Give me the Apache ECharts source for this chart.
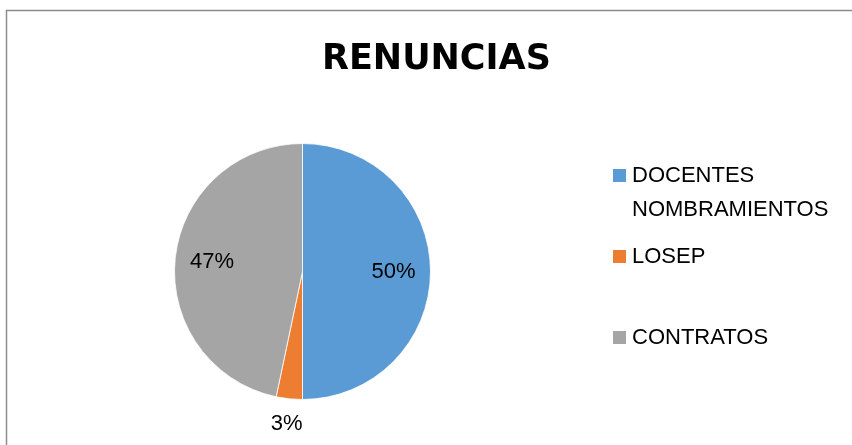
<!DOCTYPE html>
<html>
<head>
<meta charset="utf-8">
<title>RENUNCIAS</title>
<script src="https://cdn.jsdelivr.net/npm/echarts@6/dist/echarts.min.js"></script>
<style>
  html, body { margin: 0; padding: 0; background: #fff; }
  #chart { width: 852px; height: 445px; }
</style>
</head>
<body>
<div id="chart"></div>
<script>
// datos del gráfico
const categories = ['DOCENTES NOMBRAMIENTOS', 'LOSEP', 'CONTRATOS']
const values = [50, 3.3, 46.7]
const colors = ['#5B9BD5', '#ED7D31', '#A5A5A5']
// etiquetas que van fuera del sector
const outsideLabels = ['LOSEP']

const font = 'Liberation Sans, Arial, sans-serif'
const center = [302.5, 271.5]

const pieData = categories.map((name, i) => ({
  name: name,
  value: values[i],
  itemStyle: { color: colors[i] }
}))

function pct(p) {
  return Math.round(p.percent) + '%'
}

function legendFor(name, top) {
  return {
    orient: 'vertical',
    left: 611,
    top: top,
    padding: 0,
    data: [name],
    icon: 'rect',
    itemWidth: 15,
    itemHeight: 15,
    selectedMode: false,
    textStyle: {
      fontFamily: font,
      fontSize: 22,
      color: '#000',
      lineHeight: 34
    },
    // primera línea alineada con el cuadro
    formatter: n => n === 'DOCENTES NOMBRAMIENTOS' ? ' \nDOCENTES\nNOMBRAMIENTOS' : n
  }
}

const chart = echarts.init(document.getElementById('chart'))

chart.setOption({
  animation: false,
  title: {
    text: 'RENUNCIAS',
    left: 322,
    top: 42,
    padding: 0,
    textStyle: {
      fontFamily: 'DejaVu Sans, sans-serif',
      fontWeight: 'bold',
      fontSize: 35,
      color: '#000'
    }
  },
  legend: [
    legendFor(categories[0], 124.5),
    legendFor(categories[1], 239.5),
    legendFor(categories[2], 320.5)
  ],
  graphic: [{
    type: 'rect',
    silent: true,
    shape: { x: 6.5, y: 10.5, width: 900, height: 500 },
    style: { fill: 'none', stroke: '#8c8c8c', lineWidth: 1.5 }
  }],
  series: [
    {
      type: 'pie',
      center: center,
      radius: 128,
      startAngle: 90,
      clockwise: true,
      data: pieData.map(d => Object.assign({}, d, {
        label: { show: outsideLabels.includes(d.name) }
      })),
      itemStyle: { borderColor: '#fff', borderWidth: 0.8 },
      label: {
        position: 'outside',
        formatter: pct,
        fontFamily: font,
        fontSize: 22,
        color: '#000'
      },
      labelLine: { show: false, length: 25, length2: 0 },
      labelLayout: () => ({ align: 'center', dx: 5 }),
      emphasis: { disabled: true }
    },
    {
      // solo etiquetas internas, a ~0.69 del radio
      type: 'pie',
      center: center,
      radius: 176,
      startAngle: 90,
      clockwise: true,
      silent: true,
      data: pieData.map(d => Object.assign({}, d, {
        itemStyle: { color: 'rgba(0,0,0,0)' },
        label: { show: !outsideLabels.includes(d.name) }
      })),
      label: {
        position: 'inside',
        formatter: pct,
        fontFamily: font,
        fontSize: 22,
        color: '#000'
      },
      labelLine: { show: false },
      emphasis: { disabled: true },
      z: 3
    }
  ]
})
</script>
</body>
</html>
